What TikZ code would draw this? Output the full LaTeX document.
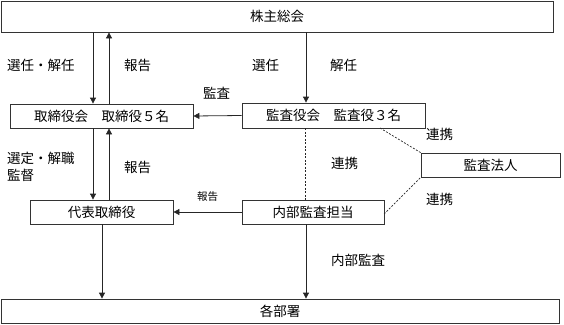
\documentclass[tikz,border=0pt]{standalone}
\usepackage{fontspec}
\setmainfont{Noto Sans CJK JP}
\usetikzlibrary{arrows.meta}
\begin{document}
\begin{tikzpicture}[x=1pt,y=-1pt,
  box/.style={draw=black!80,line width=0.8pt,inner sep=0pt,font=\fontsize{13.5}{14}\selectfont},
  lbl/.style={inner sep=0pt,font=\fontsize{13.5}{14}\selectfont,anchor=west},
  slbl/.style={inner sep=0pt,font=\fontsize{10.5}{11}\selectfont,anchor=west},
  arr/.style={draw=black!85,line width=0.8pt,-{Triangle[length=6pt,width=6pt]}},
  dash line/.style={draw=black!85,line width=0.7pt,dash pattern=on 2pt off 1.5pt}]
\useasboundingbox (0,0) rectangle (564,324);
\node[box,minimum width=552pt,minimum height=31pt] (kabu) at (277,16.5) {株主総会};
\node[box,minimum width=183pt,minimum height=24pt] (tori) at (101.5,116) {取締役会　取締役５名};
\node[box,minimum width=183pt,minimum height=25pt] (kan) at (333.5,115.5) {監査役会　監査役３名};
\node[box,minimum width=139pt,minimum height=24pt] (hojin) at (490.5,165) {監査法人};
\node[box,minimum width=143pt,minimum height=24pt] (daihyo) at (101.5,212) {代表取締役};
\node[box,minimum width=142pt,minimum height=24pt] (naibu) at (313,212) {内部監査担当};
\node[box,minimum width=558pt,minimum height=24pt] (kaku) at (280,311) {各部署};
% arrows
\draw[arr] (kabu.south -| 93,0) -- (tori.north -| 93,0);
\draw[arr] (tori.north -| 109,0) -- (kabu.south -| 109,0);
\draw[arr] (kabu.south -| 306,0) -- (kan.north -| 306,0);
\draw[arr] (kan.west) -- (tori.east);
\draw[arr] (tori.south -| 93,0) -- (daihyo.north -| 93,0);
\draw[arr] (daihyo.north -| 109,0) -- (tori.south -| 109,0);
\draw[arr] (naibu.west) -- (daihyo.east);
\draw[arr] (daihyo.south -| 102,0) -- (kaku.north -| 102,0);
\draw[arr] (naibu.south -| 306,0) -- (kaku.north -| 306,0);
% dashed
\draw[dash line] (kan.south -| 305,0) -- (naibu.north -| 305,0);
\coordinate (kanR) at (380,128);
\coordinate (naibuR) at (384,214);
\draw[dash line] (kanR) -- (hojin.north west);
\draw[dash line] (naibuR) -- (hojin.south west);
% labels
\node[lbl] (l1) at (7,65) {選任・解任};
\node[lbl] (l2) at (124,65) {報告};
\node[lbl] (l3) at (252,65) {選任};
\node[lbl] (l4) at (330,65) {解任};
\node[lbl] (l5) at (203,93) {監査};
\node[lbl] (l6) at (426,134) {連携};
\node[lbl] (l7) at (331,163) {連携};
\node[lbl] (l8) at (426,199) {連携};
\node[lbl] (l9) at (7,158) {選定・解職};
\node[lbl] (l10) at (7,175) {監督};
\node[lbl] (l11) at (124,167) {報告};
\node[slbl] (l12) at (197,197) {報告};
\node[lbl] (l13) at (331,260) {内部監査};
\end{tikzpicture}
\end{document}
